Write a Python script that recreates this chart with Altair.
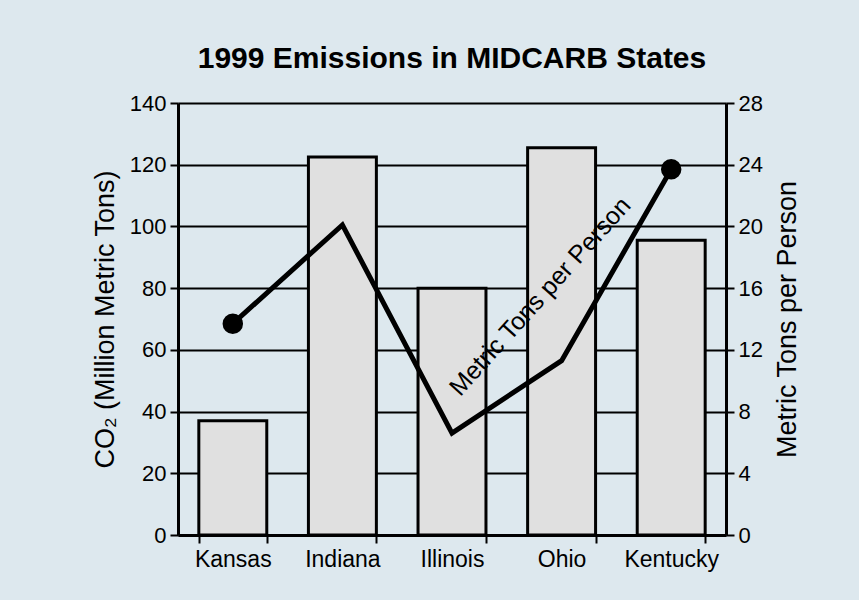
import altair as alt
import pandas as pd

states = ["Kansas", "Indiana", "Illinois", "Ohio", "Kentucky"]
co2_million_tons = [37, 122.5, 80, 125.5, 95.5]
tons_per_person = [13.7, 20.1, 6.6, 11.3, 23.7]
marker_states = ["Kansas", "Kentucky"]
left_ticks = [0, 20, 40, 60, 80, 100, 120, 140]
right_ticks = [0, 4, 8, 12, 16, 20, 24, 28]
annotation_label = ["Metric Tons per Person"]
annotation_state = ["Ohio"]
annotation_value = [17.0]

FONT = "Liberation Sans"

df = pd.DataFrame({"state": states, "co2": co2_million_tons, "pp": tons_per_person})
ann = pd.DataFrame({"state": annotation_state, "pp": annotation_value, "label": annotation_label})

x_enc = alt.X(
    "state:N",
    sort=states,
    scale=alt.Scale(paddingInner=0.38, paddingOuter=0.19),
    axis=alt.Axis(
        title=None, tickBand="extent", labelAngle=0, labelFontSize=23, labelFont=FONT,
        labelColor="black", labelPadding=5, tickSize=8, tickWidth=2, tickColor="black",
        domainColor="black", domainWidth=3,
    ),
)

bars = alt.Chart(df).mark_bar(fill="#e0e0e0", stroke="black", strokeWidth=3).encode(
    x=x_enc,
    y=alt.Y(
        "co2:Q",
        scale=alt.Scale(domain=[0, 140], nice=False),
        axis=alt.Axis(
            values=left_ticks, title="CO\u2082 (Million Metric Tons)", titleFontSize=27,
            titleFontWeight="normal", titleFont=FONT, titleColor="black", titlePadding=10,
            labelFontSize=22, labelFont=FONT, labelColor="black", labelPadding=4,
            tickSize=8, tickWidth=2, tickColor="black", domainColor="black", domainWidth=3,
            grid=True, gridColor="black", gridWidth=2, gridOpacity=1,
        ),
    ),
)

y_right = alt.Y(
    "pp:Q",
    scale=alt.Scale(domain=[0, 28], nice=False),
    axis=alt.Axis(
        orient="right", values=right_ticks, title="Metric Tons per Person", titleFontSize=27,
        titleFontWeight="normal", titleFont=FONT, titleColor="black", titlePadding=12,
        titleAngle=270, titleBaseline="top",
        labelFontSize=22, labelFont=FONT, labelColor="black", labelPadding=4,
        tickSize=8, tickWidth=2, tickColor="black", domainColor="black", domainWidth=3,
        grid=False,
    ),
)

line = alt.Chart(df).mark_line(color="black", strokeWidth=5).encode(x=x_enc, y=y_right)

points = alt.Chart(df).transform_filter(
    alt.FieldOneOfPredicate(field="state", oneOf=marker_states)
).mark_point(filled=True, color="black", size=420, opacity=1).encode(x=x_enc, y=y_right)

text = alt.Chart(ann).mark_text(
    angle=312, fontSize=25, font=FONT, color="black", dx=-32
).encode(x=x_enc, y=y_right, text="label:N")

right_layer = alt.layer(line, points, text)

chart = alt.layer(bars, right_layer).resolve_scale(y="independent").properties(
    width=548,
    height=432,
    title=alt.TitleParams(
        "1999 Emissions in MIDCARB States", fontSize=30, fontWeight="bold", font=FONT,
        color="black", anchor="middle", offset=18,
    ),
    autosize=alt.AutoSizeParams(type="none"),
    padding={"left": 178, "top": 103, "right": 133, "bottom": 65},
    background="#dde8ee",
).configure_view(stroke=None)

chart.save("out.html", embed_options={"renderer": "svg", "actions": False})
